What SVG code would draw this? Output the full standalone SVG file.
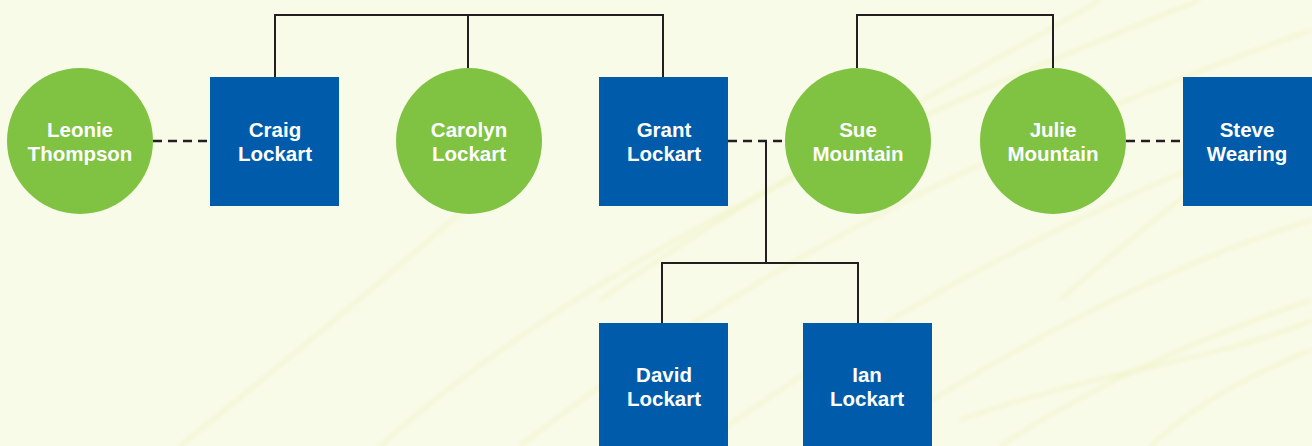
<svg xmlns="http://www.w3.org/2000/svg" width="1312" height="446" viewBox="0 0 1312 446">
<defs>
<style>
.bg{fill:#F9FBE9}
.streak{fill:none;stroke:#EDF2BE;stroke-width:3;opacity:0.7}
.sq{fill:#005BAA}
.ci{fill:#80C242}
.lbl{font-family:"Liberation Sans",Arial,sans-serif;font-weight:bold;font-size:20.5px;fill:#FFFFFF;text-anchor:middle}
.line{fill:none;stroke:#231F20;stroke-width:2}
.dash{fill:none;stroke:#231F20;stroke-width:2.5;stroke-dasharray:9 6}
</style>
<filter id="blur" x="-10%" y="-10%" width="120%" height="120%"><feGaussianBlur stdDeviation="2"/></filter>
</defs>
<rect class="bg" x="0" y="0" width="1312" height="446"/>
<g id="background-streaks" filter="url(#blur)">
<path class="streak" d="M380 446 C 600 250, 900 120, 1200 0"/>
<path class="streak" d="M520 446 C 760 260, 1000 140, 1312 30"/>
<path class="streak" d="M700 446 C 900 300, 1100 200, 1312 120"/>
<path class="streak" d="M860 446 C 1020 340, 1180 260, 1312 220"/>
<path class="streak" d="M1000 446 C 1100 380, 1220 330, 1312 300"/>
<path class="streak" d="M960 420 C 1100 370, 1220 360, 1312 320"/>
<path class="streak" d="M600 300 C 800 160, 1000 60, 1100 0"/>
<path class="streak" d="M1060 300 C 1150 220, 1230 160, 1312 100"/>
<path class="streak" d="M180 446 C 300 350, 420 250, 520 160"/>
<path class="streak" d="M1150 446 C 1200 400, 1260 370, 1312 350"/>
</g>
<g id="connectors">
<polyline class="line" points="275,77 275,15 663,15 663,77"/>
<line class="line" x1="468" y1="15" x2="468" y2="68"/>
<polyline class="line" points="857,68 857,15 1053,15 1053,68"/>
<line class="dash" x1="153" y1="141" x2="210" y2="141"/>
<line class="dash" x1="728" y1="141" x2="786" y2="141"/>
<line class="dash" x1="1126" y1="141" x2="1183" y2="141"/>
<line class="line" x1="766" y1="141" x2="766" y2="263"/>
<polyline class="line" points="662,323 662,263 858,263 858,323"/>
</g>
<g id="leonie-thompson"><circle class="ci" cx="80" cy="141" r="73"/><text class="lbl" x="80" y="137">Leonie</text><text class="lbl" x="80" y="161">Thompson</text></g>
<g id="craig-lockart"><rect class="sq" x="210" y="77" width="129" height="129"/><text class="lbl" x="275" y="137">Craig</text><text class="lbl" x="275" y="161">Lockart</text></g>
<g id="carolyn-lockart"><circle class="ci" cx="469" cy="141" r="73"/><text class="lbl" x="469" y="137">Carolyn</text><text class="lbl" x="469" y="161">Lockart</text></g>
<g id="grant-lockart"><rect class="sq" x="599" y="77" width="129" height="129"/><text class="lbl" x="664" y="137">Grant</text><text class="lbl" x="664" y="161">Lockart</text></g>
<g id="sue-mountain"><circle class="ci" cx="858" cy="141" r="73"/><text class="lbl" x="858" y="137">Sue</text><text class="lbl" x="858" y="161">Mountain</text></g>
<g id="julie-mountain"><circle class="ci" cx="1053" cy="141" r="73"/><text class="lbl" x="1053" y="137">Julie</text><text class="lbl" x="1053" y="161">Mountain</text></g>
<g id="steve-wearing"><rect class="sq" x="1183" y="77" width="129" height="129"/><text class="lbl" x="1247" y="137">Steve</text><text class="lbl" x="1247" y="161">Wearing</text></g>
<g id="david-lockart"><rect class="sq" x="599" y="323" width="129" height="129"/><text class="lbl" x="664" y="382">David</text><text class="lbl" x="664" y="406">Lockart</text></g>
<g id="ian-lockart"><rect class="sq" x="803" y="323" width="129" height="129"/><text class="lbl" x="867" y="382">Ian</text><text class="lbl" x="867" y="406">Lockart</text></g>
</svg>
